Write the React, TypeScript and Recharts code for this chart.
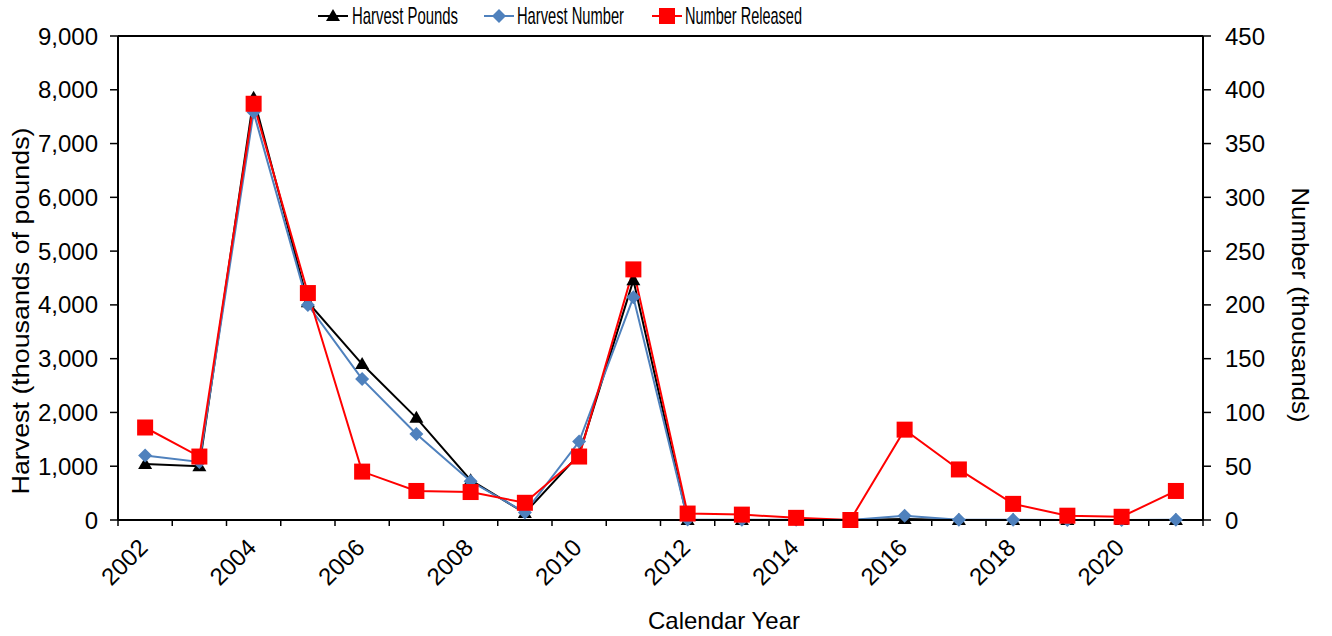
import { LineChart, Line, XAxis, YAxis, Legend, ReferenceLine, Label } from 'recharts';

const years = ['2002', '2003', '2004', '2005', '2006', '2007', '2008', '2009', '2010', '2011',
  '2012', '2013', '2014', '2015', '2016', '2017', '2018', '2019', '2020', '2021'];
// thousands of pounds (left axis)
const harvestPounds = [1040, 1000, 7850, 4050, 2900, 1900, 740, 130, 1220, 4460, 0, 0, 0, 0, 20, 0, 0, 0, 0, 0];
// thousands of fish (right axis)
const harvestNumber = [60, 54, 379, 200, 131, 80, 36, 7, 73, 207, 0.5, 0.3, 0.2, 0, 4, 0.3, 0.2, 0, 0, 0.2];
const numberReleased = [86, 59, 387, 211, 45, 27, 26, 16, 59, 233, 6, 5, 2, 0, 84, 47, 15, 4, 3, 27];

const leftTicks = [0, 1000, 2000, 3000, 4000, 5000, 6000, 7000, 8000, 9000];
const rightTicks = [0, 50, 100, 150, 200, 250, 300, 350, 400, 450];

const data = years.map((year, i) => ({
  year,
  pounds: harvestPounds[i],
  number: harvestNumber[i],
  released: numberReleased[i],
}));

const W = 1332;
const H = 636;
const LEFT_W = 118;
const RIGHT_W = 129;
const XAXIS_H = 116;
const FONT = "Arial, 'Liberation Sans', sans-serif";
const BLUE = '#4F81BD';
const RED = '#FF0000';

const Triangle = ({ cx, cy }: any) =>
  cx == null || cy == null ? null : (
    <polygon points={`${cx},${cy - 7} ${cx - 7},${cy + 5} ${cx + 7},${cy + 5}`} fill="#000" />
  );

const Diamond = ({ cx, cy }: any) =>
  cx == null || cy == null ? null : (
    <polygon points={`${cx},${cy - 7} ${cx + 7},${cy} ${cx},${cy + 7} ${cx - 7},${cy}`} fill={BLUE} />
  );

const Square = ({ cx, cy }: any) =>
  cx == null || cy == null ? null : <rect x={cx - 8} y={cy - 8} width={16} height={16} fill={RED} />;

function YearTick(props: any) {
  const { x, y, payload, index } = props;
  const bw = (W - LEFT_W - RIGHT_W) / years.length;
  const tx = x + 4;
  const ty = y + 29;
  return (
    <g>
      <line x1={x - bw / 2} x2={x - bw / 2} y1={y} y2={y + 6} stroke="#000" strokeWidth={1.5} />
      {index === years.length - 1 && (
        <line x1={x + bw / 2} x2={x + bw / 2} y1={y} y2={y + 6} stroke="#000" strokeWidth={1.5} />
      )}
      {index % 2 === 0 && (
        <text x={tx} y={ty} transform={`rotate(-45 ${tx} ${ty})`} textAnchor="end" fontSize={24} fill="#000" fontFamily={FONT}>
          {payload.value}
        </text>
      )}
    </g>
  );
}

function LegendBox() {
  const items = [
    { x: 318, textX: 352, w: 106, label: 'Harvest Pounds', color: '#000', mark: 'tri' },
    { x: 484, textX: 517, w: 107, label: 'Harvest Number', color: BLUE, mark: 'dia' },
    { x: 652, textX: 685, w: 117, label: 'Number Released', color: RED, mark: 'sq' },
  ];
  return (
    <svg width={W} height={36} style={{ display: 'block' }}>
      {items.map((it) => {
        const cx = it.x + 15;
        const cy = 16;
        return (
          <g key={it.label}>
            <line x1={it.x} x2={it.x + 30} y1={cy} y2={cy} stroke={it.color} strokeWidth={2} />
            {it.mark === 'tri' && <Triangle cx={cx} cy={cy} />}
            {it.mark === 'dia' && <Diamond cx={cx} cy={cy} />}
            {it.mark === 'sq' && <Square cx={cx} cy={cy} />}
            <text x={it.textX} y={24} fontSize={24} textLength={it.w} lengthAdjust="spacingAndGlyphs" fontFamily={FONT} fill="#000">
              {it.label}
            </text>
          </g>
        );
      })}
    </svg>
  );
}

export default function App() {
  return (
    <div style={{ position: 'absolute', left: 0, top: 0, width: W, height: H, background: '#fff' }}>
      <LineChart width={W} height={H} data={data} margin={{ top: 0, right: 0, bottom: 0, left: 0 }}>
        <Legend verticalAlign="top" align="left" content={() => <LegendBox />} />
        <XAxis
          dataKey="year"
          scale="band"
          height={XAXIS_H}
          interval={0}
          tickLine={false}
          tickSize={0}
          tickMargin={0}
          axisLine={{ stroke: '#000', strokeWidth: 2 }}
          tick={<YearTick />}
        >
          <Label
            content={() => (
              <text x={724} y={629} textAnchor="middle" fontSize={24} textLength={152} lengthAdjust="spacingAndGlyphs" fontFamily={FONT} fill="#000">
                Calendar Year
              </text>
            )}
          />
        </XAxis>
        <YAxis
          yAxisId="left"
          orientation="left"
          width={LEFT_W}
          domain={[0, 9000]}
          ticks={leftTicks}
          interval={0}
          tickFormatter={(v: number) => v.toLocaleString('en-US')}
          tick={{ fontSize: 24, fill: '#000', fontFamily: FONT }}
          tickSize={8}
          tickMargin={12}
          tickLine={{ stroke: '#000', strokeWidth: 1.5 }}
          axisLine={{ stroke: '#000', strokeWidth: 2 }}
        >
          <Label
            content={() => (
              <text x={20} y={311} transform="rotate(-90 20 311)" textAnchor="middle" dominantBaseline="central" fontSize={24} textLength={367} lengthAdjust="spacingAndGlyphs" fontFamily={FONT} fill="#000">
                Harvest (thousands of pounds)
              </text>
            )}
          />
        </YAxis>
        <YAxis
          yAxisId="right"
          orientation="right"
          width={RIGHT_W}
          domain={[0, 450]}
          ticks={rightTicks}
          interval={0}
          tick={{ fontSize: 24, fill: '#000', fontFamily: FONT }}
          tickSize={8}
          tickMargin={14}
          tickLine={{ stroke: '#000', strokeWidth: 1.5 }}
          axisLine={{ stroke: '#000', strokeWidth: 2 }}
        >
          <Label
            content={() => (
              <text x={1300} y={305} transform="rotate(90 1300 305)" textAnchor="middle" dominantBaseline="central" fontSize={24} textLength={235} lengthAdjust="spacingAndGlyphs" fontFamily={FONT} fill="#000">
                Number (thousands)
              </text>
            )}
          />
        </YAxis>
        <ReferenceLine yAxisId="left" y={9000} stroke="#000" strokeWidth={2} />
        <Line yAxisId="left" dataKey="pounds" stroke="#000" strokeWidth={2} dot={<Triangle />} activeDot={false} isAnimationActive={false} />
        <Line yAxisId="right" dataKey="number" stroke={BLUE} strokeWidth={2} dot={<Diamond />} activeDot={false} isAnimationActive={false} />
        <Line yAxisId="right" dataKey="released" stroke={RED} strokeWidth={2} dot={<Square />} activeDot={false} isAnimationActive={false} />
      </LineChart>
    </div>
  );
}
